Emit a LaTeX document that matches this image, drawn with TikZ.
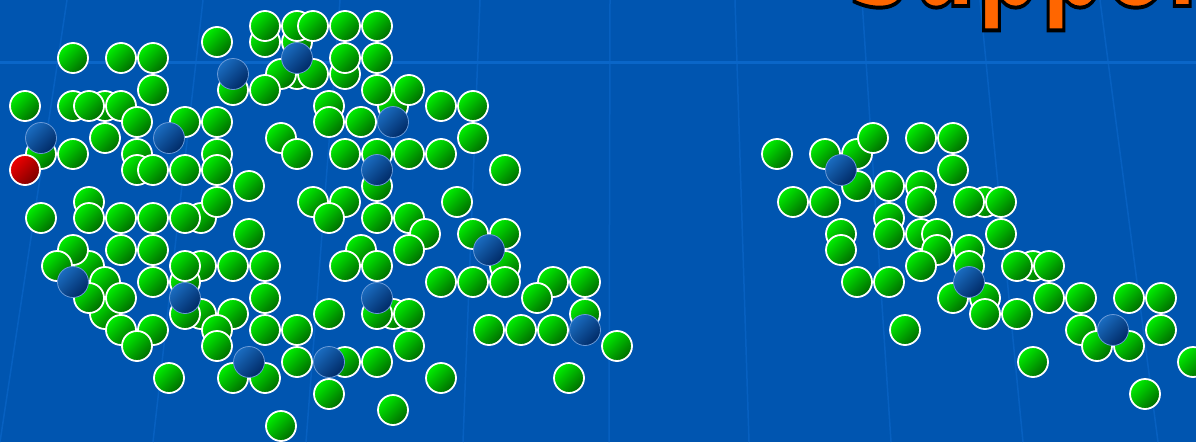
\documentclass[tikz,border=0pt]{standalone}
\usepackage{fontspec}
\usepackage{tikz}
\usetikzlibrary{positioning}
\newfontfamily\titlefont{DejaVu Sans}
\definecolor{OceanBlue}{HTML}{0055B0}
\definecolor{GridBlue}{HTML}{0A66C8}
\definecolor{LeafLight}{HTML}{00F000}
\definecolor{LeafDark}{HTML}{006A00}
\definecolor{PinLight}{HTML}{1A6CC0}
\definecolor{PinDark}{HTML}{002A66}
\definecolor{PinEdge}{HTML}{6A9AD8}
\definecolor{FlagLight}{HTML}{F00000}
\definecolor{FlagDark}{HTML}{7A0000}
\definecolor{TitleOrange}{HTML}{FF6600}

\begin{document}
\begin{tikzpicture}[x=1pt, y=-1pt,
  greenball/.style={circle, draw=white, line width=1.8pt, minimum size=30pt, inner sep=0pt, top color=LeafLight, bottom color=LeafDark, shading angle=45},
  blueball/.style={circle, draw=PinEdge, line width=0.8pt, minimum size=31pt, inner sep=0pt, top color=PinLight, bottom color=PinDark, shading angle=45},
  redball/.style={circle, draw=white, line width=1.8pt, minimum size=30pt, inner sep=0pt, top color=FlagLight, bottom color=FlagDark, shading angle=45},
  titletext/.style={anchor=base west, inner sep=0pt, text=TitleOrange, font=\titlefont\bfseries\fontsize{90}{90}\selectfont}]
  \useasboundingbox (0,0) rectangle (1196,442);
  \clip (0,0) rectangle (1196,442);
  \fill[OceanBlue] (0,0) rectangle (1196,442);
  \draw[GridBlue, line width=3pt] (0,62) -- (1196,62);
  \foreach \t/\b in {67/0,203/153,340/306,480/463,610/609,735/749,862/891,980/1023,1100/1158}
    \draw[GridBlue, line width=1.5pt, opacity=0.7] (\t,0) -- (\b,442);

  \node[titletext] (title) at (847,6) {\scalebox{1}[1.3]{\special{pdf:literal direct 0 0 0 RG 3 w 2 Tr}Support\special{pdf:literal direct 0 Tr}}};

  \foreach \x/\y [count=\n] in {297/42,297/74,105/106,345/74,393/106,201/218,201/266,185/282,105/314,201/314,393/314,585/314,137/154,233/90,265/42,89/266,
      857/154,921/186,985/202,889/218,921/234,1033/266,985/298}
    \node[greenball] (h\n) at (\x,\y) {};

  \foreach \x/\y [count=\n] in {265/26,297/26,313/26,345/26,377/26,217/42,73/58,121/58,153/58,345/58,377/58,281/74,313/74,
      153/90,265/90,377/90,409/90,25/106,73/106,89/106,121/106,329/106,441/106,473/106,
      137/122,185/122,217/122,329/122,361/122,105/138,281/138,473/138,
      41/154,73/154,217/154,297/154,345/154,377/154,409/154,441/154,
      137/170,153/170,185/170,217/170,505/170,249/186,377/186,
      89/202,217/202,313/202,345/202,457/202,
      41/218,89/218,121/218,153/218,185/218,329/218,377/218,409/218,
      249/234,425/234,473/234,505/234,73/250,121/250,153/250,361/250,409/250,
      57/266,185/266,233/266,265/266,345/266,377/266,505/266,
      105/282,153/282,441/282,473/282,505/282,553/282,585/282,
      89/298,121/298,265/298,537/298,185/314,233/314,329/314,377/314,409/314,
      121/330,153/330,217/330,265/330,297/330,489/330,521/330,553/330,
      137/346,217/346,409/346,617/346,297/362,345/362,377/362,
      169/378,233/378,265/378,441/378,569/378,329/394,393/410,281/426,
      873/138,921/138,953/138,777/154,825/154,953/170,857/186,889/186,
      793/202,825/202,921/202,969/202,1001/202,841/234,889/234,937/234,1001/234,
      841/250,937/250,969/250,921/266,969/266,1017/266,1049/266,857/282,889/282,
      953/298,1049/298,1081/298,1129/298,1161/298,985/314,1017/314,
      905/330,1081/330,1161/330,1097/346,1129/346,1033/362,1193/362,1145/394}
    \node[greenball] (g\n) at (\x,\y) {};

  \foreach \x/\y [count=\n] in {297/58,233/74,41/138,169/138,393/122,377/170,489/250,73/282,185/298,377/298,585/330,249/362,329/362,
      841/170,969/282,1113/330}
    \node[blueball] (b\n) at (\x,\y) {};

  \node[redball] (r) at (25,170) {};
\end{tikzpicture}
\end{document}
